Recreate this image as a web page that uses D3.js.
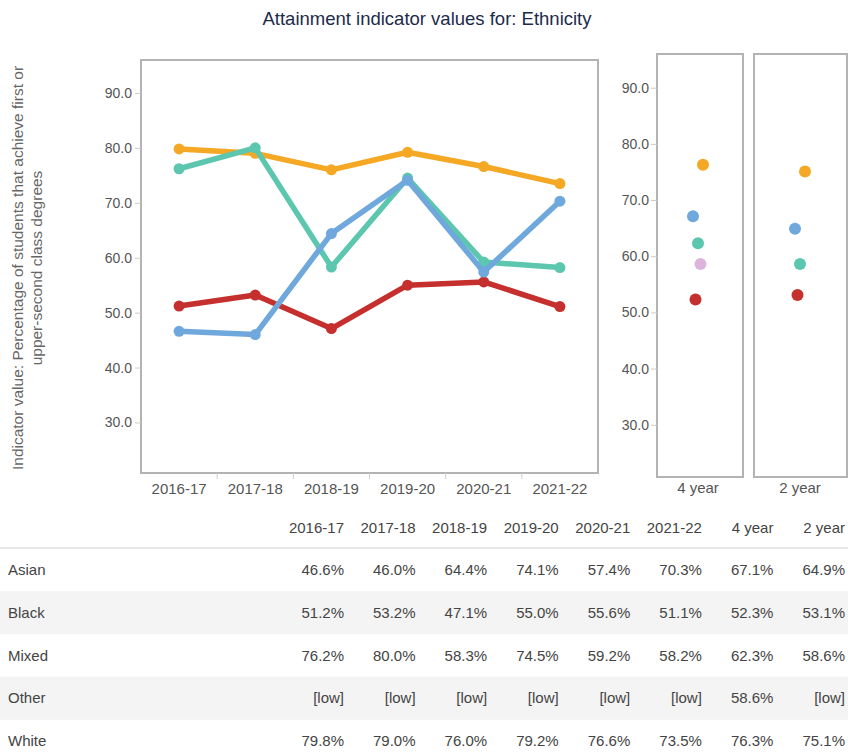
<!DOCTYPE html>
<html><head><meta charset="utf-8">
<script src="https://cdn.jsdelivr.net/npm/d3@7"></script>
<style>
body{margin:0;background:#fff;font-family:"Liberation Sans",Arial,sans-serif;}
svg{display:block;}
</style></head><body>
<svg id="chart" width="848" height="756"></svg>
<script>
const years = ["2016-17","2017-18","2018-19","2019-20","2020-21","2021-22"];
const averages = ["4 year","2 year"];
const groups = ["Asian","Black","Mixed","Other","White"];
const asian = [46.6,46.0,64.4,74.1,57.4,70.3];
const black = [51.2,53.2,47.1,55.0,55.6,51.1];
const mixed = [76.2,80.0,58.3,74.5,59.2,58.2];
const other = [null,null,null,null,null,null];
const white = [79.8,79.0,76.0,79.2,76.6,73.5];
const avg4 = [67.1,52.3,62.3,58.6,76.3];
const avg2 = [64.9,53.1,58.6,null,75.1];
const yTicks = [30,40,50,60,70,80,90];
const colors = ["#6fa8dc","#c5302e","#5cc7ae","#dcb4dc","#f4a824"];

const series = [asian,black,mixed,other,white];
const svg = d3.select("#chart");
const txt = "#555";
const FF = "Liberation Sans, Arial, sans-serif";

// Title
svg.append("text").attr("x",427).attr("y",25).attr("text-anchor","middle")
  .attr("font-size",18.5).attr("fill","#1c2b4b").text("Attainment indicator values for: Ethnicity");

// Y axis title
const yt = svg.append("text").attr("transform","translate(0,268) rotate(-90)")
  .attr("text-anchor","middle").attr("font-size",15.5).attr("fill","#666");
yt.append("tspan").attr("x",0).attr("y",23).text("Indicator value: Percentage of students that achieve first or");
yt.append("tspan").attr("x",0).attr("y",42).text("upper-second class degrees");

const yDomain = [20.8,96];

// Main panel
const mL=141, mR=598, mT=60, mB=473;
const y = d3.scaleLinear().domain(yDomain).range([mB,mT]);
const xb = d3.scaleBand().domain(years).range([mL,mR]);
const xp = d3.scalePoint().domain(years).range([mL,mR]).padding(0.5);

svg.append("rect").attr("x",mL).attr("y",mT).attr("width",mR-mL).attr("height",mB-mT)
  .attr("fill","none").attr("stroke","#b3b3b3").attr("stroke-width",2);

const yAx = svg.append("g").attr("transform",`translate(${mL},0)`)
  .call(d3.axisLeft(y).tickValues(yTicks).tickFormat(d3.format(".1f")).tickSize(6).tickPadding(3));
yAx.select(".domain").remove();
yAx.selectAll("line").attr("stroke","#ccc");
yAx.selectAll("text").attr("font-size",14).attr("fill",txt).attr("font-family",FF);

const xAx = svg.append("g").attr("transform",`translate(0,${mB})`)
  .call(d3.axisBottom(xb).tickSize(0).tickPadding(10));
xAx.select(".domain").remove();
xAx.selectAll("text").attr("font-size",15).attr("fill",txt).attr("font-family",FF);
// ticks at band boundaries
svg.append("g").selectAll("line").data(years.slice(1)).join("line")
  .attr("x1",d=>xb(d)).attr("x2",d=>xb(d)).attr("y1",mB).attr("y2",mB+6)
  .attr("stroke","#ccc");

const line = d3.line().defined(d=>d.v!=null).x(d=>xp(d.k)).y(d=>y(d.v));
const drawOrder = [4,1,2,0,3];
drawOrder.forEach(i=>{
  const pts = years.map((k,j)=>({k,v:series[i][j]}));
  svg.append("path").datum(pts).attr("d",line).attr("fill","none")
    .attr("stroke",colors[i]).attr("stroke-width",5.5).attr("stroke-linejoin","round").attr("stroke-linecap","round");
  svg.append("g").selectAll("circle").data(pts.filter(d=>d.v!=null)).join("circle")
    .attr("cx",d=>xp(d.k)).attr("cy",d=>y(d.v)).attr("r",5.5).attr("fill",colors[i]);
});

// Side panels
const sT=54, sB=477;
const ys = d3.scaleLinear().domain([20.7,96]).range([sB,sT]);
const panels = [{name:"4 year",x0:657,x1:743,vals:avg4},{name:"2 year",x0:754,x1:847,vals:avg2}];
panels.forEach((p,pi)=>{
  svg.append("rect").attr("x",p.x0).attr("y",sT).attr("width",p.x1-p.x0).attr("height",sB-sT)
    .attr("fill","none").attr("stroke","#b3b3b3").attr("stroke-width",2);
  const cx = pi===0 ? 698 : 800;
  const jit = d3.scalePoint().domain(groups).range([cx-5,cx+5]);
  svg.append("g").selectAll("circle").data(groups.map((g,i)=>({g,v:p.vals[i],i})).filter(d=>d.v!=null)).join("circle")
    .attr("cx",d=>jit(d.g)).attr("cy",d=>ys(d.v)).attr("r",6).attr("fill",d=>colors[d.i]);
  svg.append("text").attr("x",cx).attr("y",493).attr("text-anchor","middle")
    .attr("font-size",15).attr("fill",txt).text(p.name);
});
const ysAx = svg.append("g").attr("transform",`translate(657,0)`)
  .call(d3.axisLeft(ys).tickValues(yTicks).tickFormat(d3.format(".1f")).tickSize(6).tickPadding(2));
ysAx.select(".domain").remove();
ysAx.selectAll("line").attr("stroke","#ccc");
ysAx.selectAll("text").attr("font-size",14).attr("fill",txt).attr("font-family",FF);

// Table
const cols = years.concat(averages);
const colRight = d3.scalePoint().domain(cols).range([344,845]);
const rowY = d3.scalePoint().domain(groups).range([570,741]);
const rowH = 43;
groups.forEach((g,i)=>{
  if(i%2===1){
    svg.append("rect").attr("x",0).attr("y",rowY(g)-rowH/2).attr("width",848).attr("height",rowH).attr("fill","#f4f4f4");
  }
});
svg.append("line").attr("x1",0).attr("x2",848).attr("y1",548).attr("y2",548).attr("stroke","#ddd").attr("stroke-width",1.5);
svg.append("g").selectAll("text").data(cols).join("text")
  .attr("x",d=>colRight(d)).attr("y",533).attr("text-anchor","end").attr("font-size",15).attr("fill","#444").text(d=>d);
const fmt = v => v==null ? "[low]" : v.toFixed(1)+"%";
groups.forEach((g,i)=>{
  const yy = rowY(g)+5;
  svg.append("text").attr("x",8).attr("y",yy).attr("font-size",15).attr("fill","#444").text(g);
  const vals = series[i].concat([avg4[i],avg2[i]]);
  svg.append("g").selectAll("text").data(cols.map((c,j)=>({c,v:vals[j]}))).join("text")
    .attr("x",d=>colRight(d.c)).attr("y",yy).attr("text-anchor","end").attr("font-size",15).attr("fill","#444").text(d=>fmt(d.v));
});
</script></body></html>
